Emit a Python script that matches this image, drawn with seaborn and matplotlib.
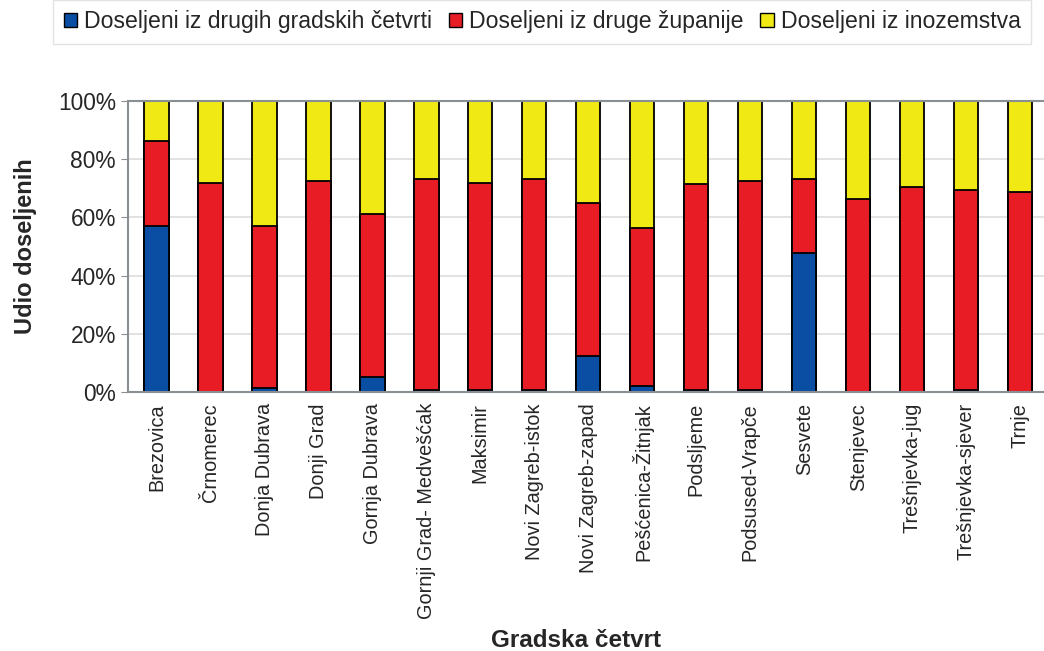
import pandas as pd
import matplotlib.pyplot as plt
import seaborn as sns
from matplotlib.ticker import PercentFormatter
from matplotlib.patches import Patch

cetvrti = ["Brezovica", "Črnomerec", "Donja Dubrava", "Donji Grad", "Gornja Dubrava",
           "Gornji Grad- Medvešćak", "Maksimir", "Novi Zagreb-istok", "Novi Zagreb-zapad",
           "Pešćenica-Žitnjak", "Podsljeme", "Podsused-Vrapče", "Sesvete", "Stenjevec",
           "Trešnjevka-jug", "Trešnjevka-sjever", "Trnje"]
# shares in percent
iz_cetvrti = [56.9, 0.0, 1.4, 0.0, 5.2, 0.5, 0.5, 0.5, 12.5, 2.0, 0.5, 0.5, 47.6, 0.0, 0.0, 0.5, 0.0]
iz_zupanije = [29.4, 71.8, 55.5, 72.5, 56.0, 72.6, 71.3, 72.6, 52.4, 54.4, 70.8, 72.0, 25.5, 66.2, 70.5, 68.8, 68.6]
iz_inozemstva = [13.7, 28.2, 43.1, 27.5, 38.8, 26.9, 28.2, 26.9, 35.1, 43.6, 28.7, 27.5, 26.9, 33.8, 29.5, 30.7, 31.4]

serije = ["Doseljeni iz drugih gradskih četvrti", "Doseljeni iz druge županije", "Doseljeni iz inozemstva"]
boje = ["#0a4ea3", "#e81c24", "#f0e914"]

df = pd.DataFrame({"cetvrt": cetvrti, "a": iz_cetvrti, "b": iz_zupanije, "c": iz_inozemstva})
df["ab"] = df["a"] + df["b"]
df["abc"] = df["ab"] + df["c"]

sns.set_style("white")
plt.rcParams['font.family'] = ['Liberation Sans', 'DejaVu Sans']

fig = plt.figure(figsize=(10.44, 6.51), dpi=100)
ax = fig.add_axes([0.123, 0.398, 0.88, 0.447])

for col, boja in zip(["abc", "ab", "a"], boje[::-1]):
    sns.barplot(data=df, x="cetvrt", y=col, color=boja, width=0.45,
                edgecolor="black", linewidth=1.3, ax=ax, saturation=1)

ax.set_ylim(0, 100)
ax.set_xlim(-0.52, 16.5)
ax.yaxis.set_major_formatter(PercentFormatter(decimals=0))
ax.set_yticks([0, 20, 40, 60, 80, 100])
ax.grid(axis="y", color="#dddddd", linewidth=1.2)
ax.set_axisbelow(True)
for s in ax.spines.values():
    s.set_color("#8a8f94")
    s.set_linewidth(1.5)
ax.spines["right"].set_visible(False)
ax.tick_params(axis="x", labelrotation=90, labelsize=14.3, length=0, pad=8)
ax.tick_params(axis="y", labelsize=16.4, length=5, color="#8a8f94", left=True, pad=4)
ax.set_xlabel("Gradska četvrt", fontsize=17.5, fontweight="bold")
ax.xaxis.set_label_coords(0.487, -0.815)
ax.set_ylabel("Udio doseljenih", fontsize=17, fontweight="bold")
ax.yaxis.set_label_coords(-0.099, 0.5)

handles = [Patch(facecolor=b, edgecolor="black", label=s) for s, b in zip(serije, boje)]
fig.legend(handles=handles, loc="upper left", bbox_to_anchor=(0.04, 1.018), ncol=3,
           fontsize=16.6, frameon=True, fancybox=False, edgecolor="#dddddd",
           handlelength=0.6, handleheight=0.6, handletextpad=0.3, columnspacing=0.7,
           borderpad=0.45)

plt.savefig("out.png", dpi=100)
plt.close()
